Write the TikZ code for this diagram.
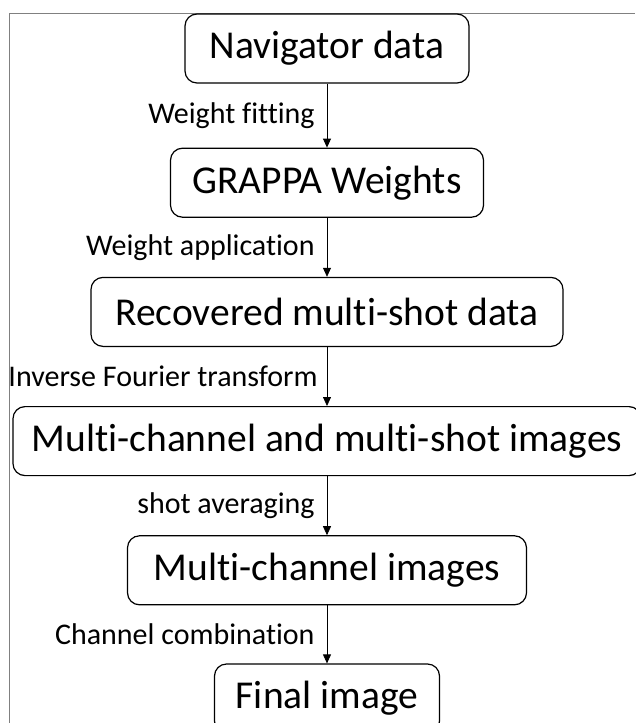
\documentclass[tikz,border=0pt]{standalone}
\usepackage{fontspec}
\setmainfont[Ligatures={NoCommon}]{Carlito}
\usetikzlibrary{arrows.meta,positioning}
\definecolor{framegray}{RGB}{128,128,128}

\begin{document}
\begin{tikzpicture}[
    x=1pt, y=-1pt,
    node distance=59pt,
    stepbox/.style={rectangle, draw, rounded corners=12pt, line width=1.2pt, minimum height=69pt, inner xsep=4pt, font=\fontsize{39.5}{46}\selectfont, align=center},
    lbl/.style={font=\fontsize{30}{36}\selectfont, inner sep=0pt},
    arrow/.style={-{Triangle[length=9pt, width=8pt]}, line width=0.8pt}
]
\useasboundingbox (0,0) rectangle (635,723);

% === FRAME ===
\draw[framegray, line width=0.8pt] (9,723) -- (9,13) -- (635,13);

% === STEPS ===
\node[stepbox, minimum width=284pt] (navdata) at (327,48.5) {Navigator data};
\node[stepbox, minimum width=313pt, below=64pt of navdata] (grappa) {GRAPPA Weights};
\node[stepbox, minimum width=472pt, below=of grappa] (recovered) {Recovered multi-shot data};
\node[stepbox, minimum width=628pt, below=of recovered] (mcms) {Multi-channel and multi-shot images};
\node[stepbox, minimum width=399pt, below=of mcms] (mcimg) {Multi-channel images};
\node[stepbox, minimum width=225pt, below=58pt of mcimg] (final) {Final image};

% === ARROWS ===
\draw[arrow] (navdata) -- node[lbl, left=12pt] {Weight fitting} (grappa);
\draw[arrow] (grappa) -- node[lbl, left=12pt] {Weight application} (recovered);
\draw[arrow] (recovered) -- node[lbl, left=9pt] {Inverse Fourier transform} (mcms);
\draw[arrow] (mcms) -- node[lbl, left=12pt] {shot averaging} (mcimg);
\draw[arrow] (mcimg) -- node[lbl, left=12pt] {Channel combination} (final);

\end{tikzpicture}
\end{document}
